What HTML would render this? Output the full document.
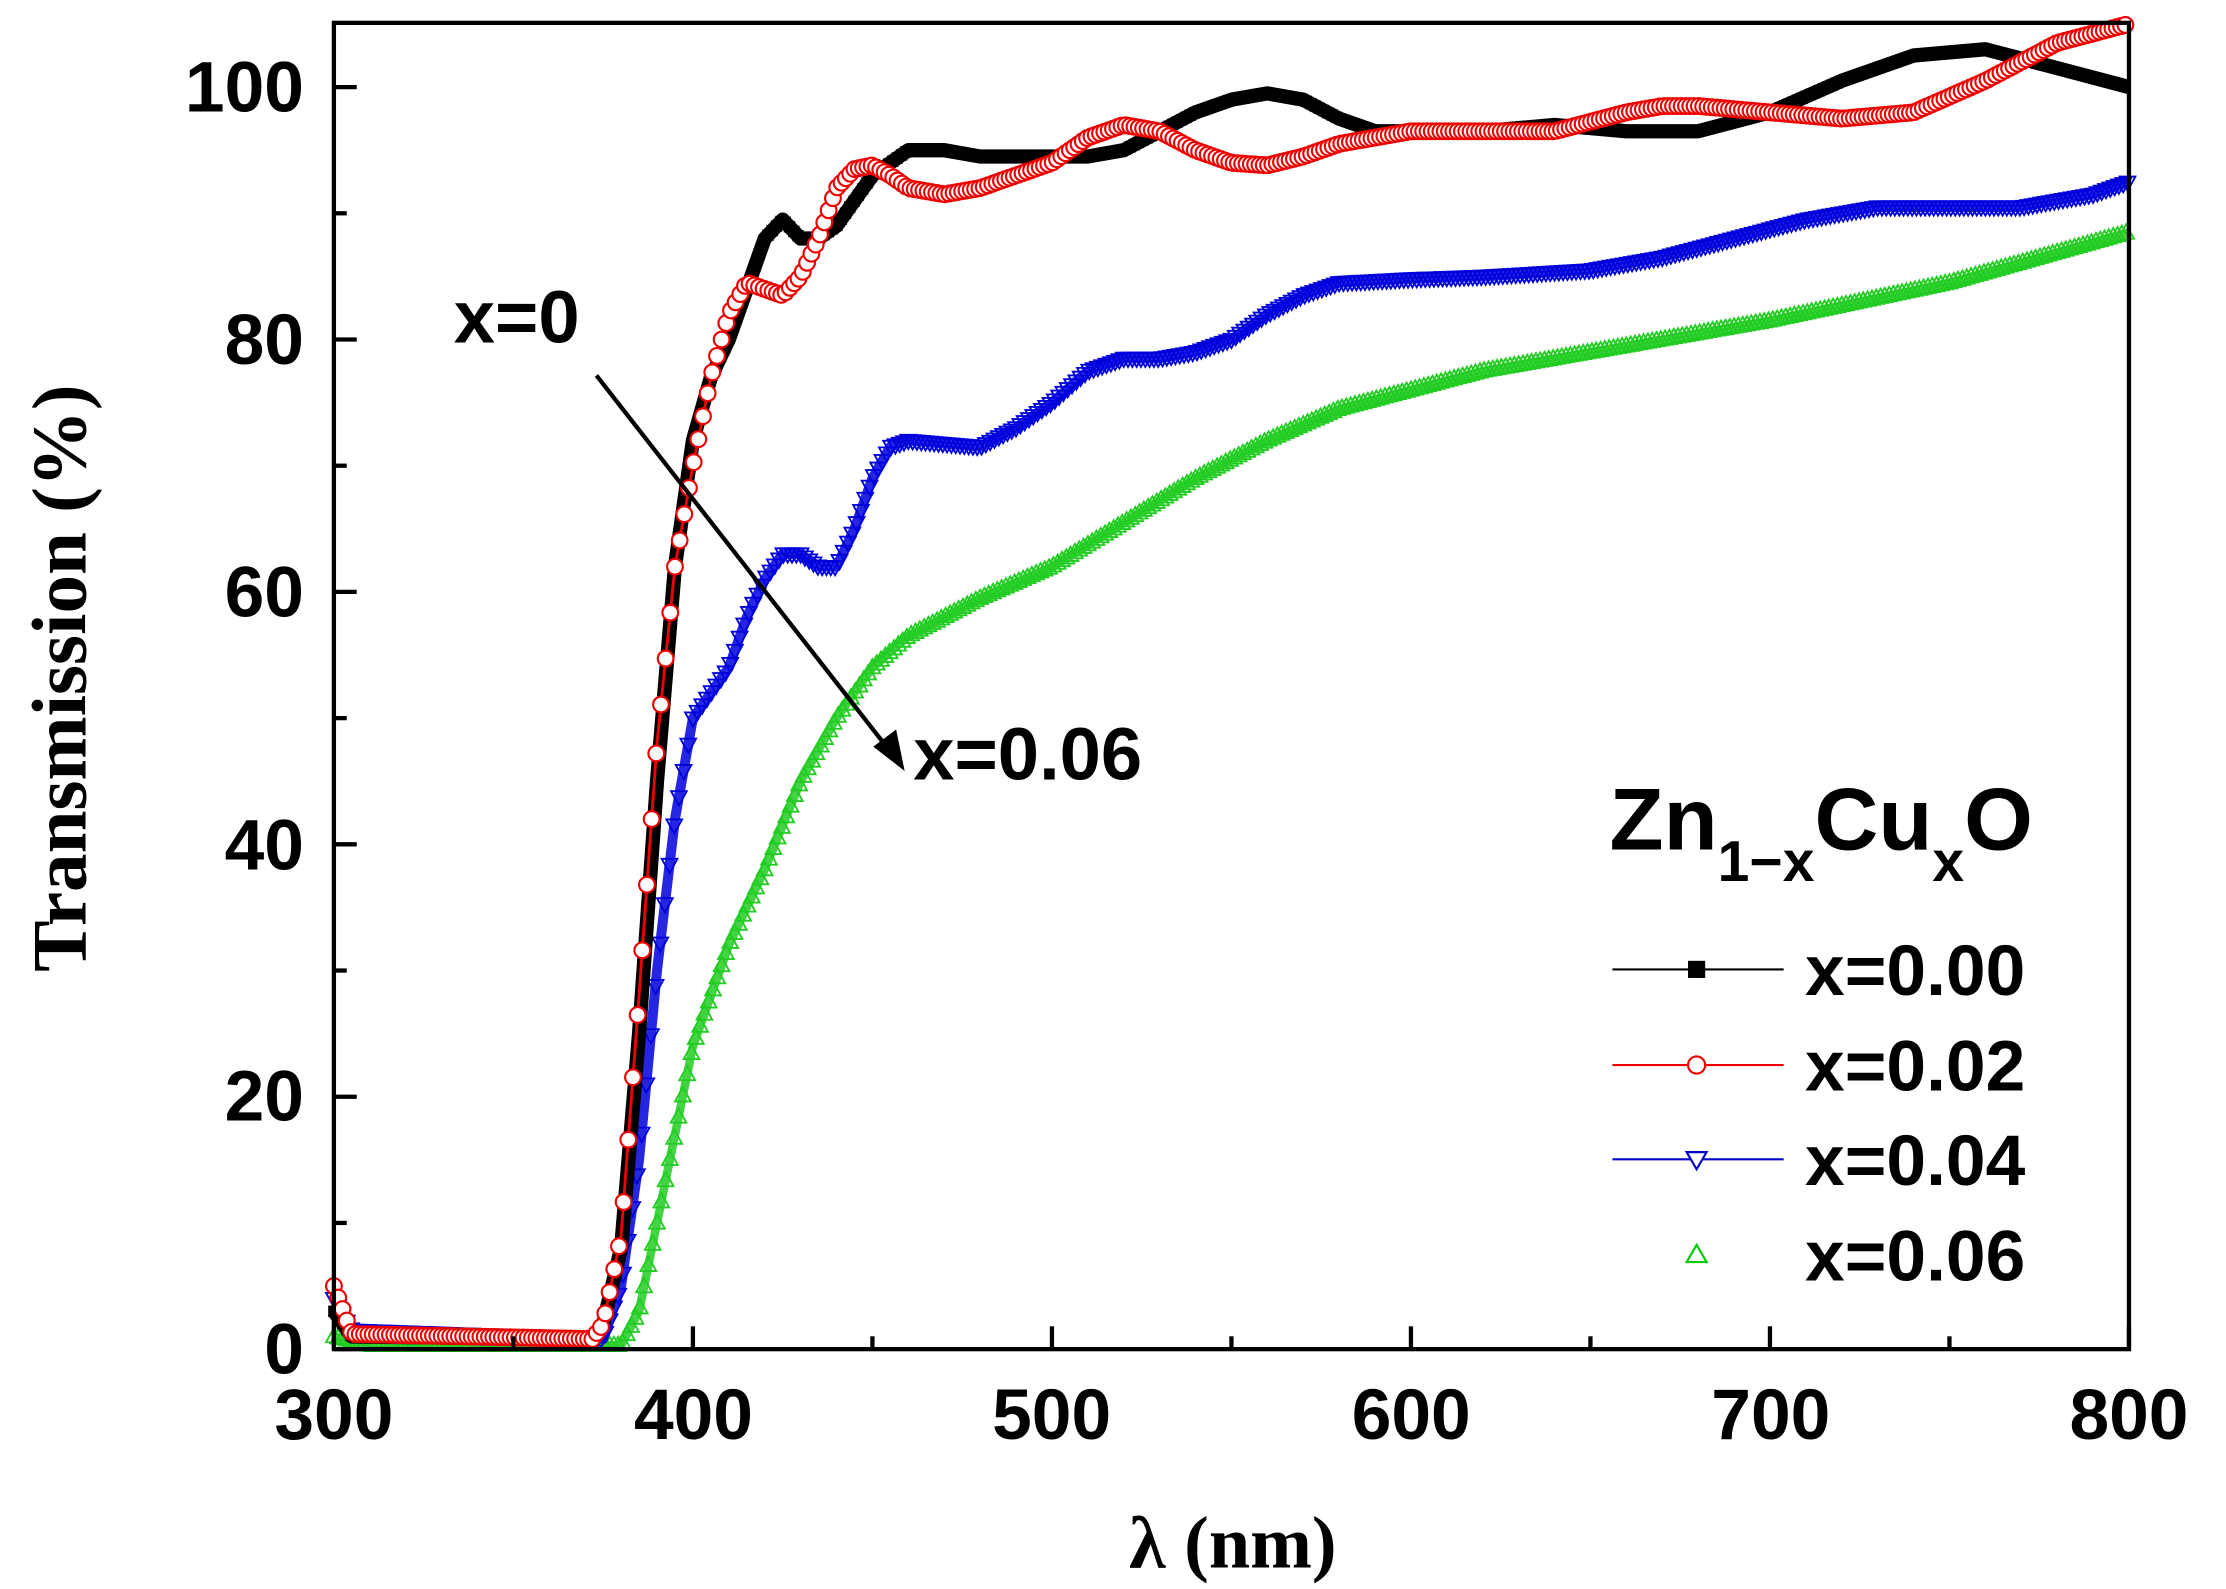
<!DOCTYPE html>
<html><head><meta charset="utf-8"><style>
html,body{margin:0;padding:0;background:#fff;}
svg{display:block;}
.t{font-family:"Liberation Sans",Arial,sans-serif;font-weight:bold;}
</style></head><body>
<svg id="s" width="2226" height="1589" viewBox="0 0 1560 1113" preserveAspectRatio="none" xmlns="http://www.w3.org/2000/svg">
<g id="data"></g>
<rect x="234" y="16" width="1258" height="929" fill="none" stroke="#000" stroke-width="3"/>
<g id="ticks" stroke="#000" stroke-width="3"></g>
<g class="t" font-size="50" text-anchor="middle">
<text x="234" y="1008">300</text><text x="486" y="1008">400</text><text x="737" y="1008">500</text>
<text x="989" y="1008">600</text><text x="1241" y="1008">700</text><text x="1492" y="1008">800</text>
</g>
<g class="t" font-size="50" text-anchor="end">
<text x="213" y="962">0</text><text x="213" y="785">20</text><text x="213" y="609">40</text>
<text x="213" y="432">60</text><text x="213" y="255">80</text><text x="213" y="78">100</text>
</g>
<text x="864" y="1098" text-anchor="middle" font-family="Liberation Serif,serif" font-weight="bold" font-size="52">λ (nm)</text>
<text transform="translate(60,475) rotate(-90)" text-anchor="middle" font-family="Liberation Serif,serif" font-weight="bold" font-size="54">Transmission (%)</text>
<line x1="418" y1="263" x2="622" y2="524" stroke="#000" stroke-width="3"/>
<polygon points="634,540 612,523 628,511" fill="#000"/>
<text class="t" x="318" y="240" font-size="52">x=0</text>
<text class="t" x="640" y="546" font-size="52">x=0.06</text>
<text class="t" x="1128" y="595" font-size="62">Zn<tspan font-size="40" dy="22">1−x</tspan><tspan dy="-22">Cu</tspan><tspan font-size="40" dy="22">x</tspan><tspan dy="-22">O</tspan></text>
<g stroke-width="1.5">
<line x1="1130" y1="679" x2="1250" y2="679" stroke="#000"/><rect x="1183" y="673" width="12" height="12" fill="#000"/>
<line x1="1130" y1="746" x2="1250" y2="746" stroke="#e00"/><circle cx="1189" cy="746" r="6" fill="#fff" stroke="#e00"/>
<line x1="1130" y1="812" x2="1250" y2="812" stroke="#00c"/><polygon points="1182,807 1196,807 1189,819" fill="#fff" stroke="#00c"/>
<polygon points="1182,884 1196,884 1189,872" fill="#fff" stroke="#0c0"/>
</g>
<g class="t" font-size="50">
<text x="1265" y="697">x=0.00</text><text x="1265" y="764">x=0.02</text>
<text x="1265" y="830">x=0.04</text><text x="1265" y="897">x=0.06</text>
</g>
</svg>
<script>
var X=function(w){return 234+(w-300)*1258/500;},Y=function(t){return 945-t*8.84;};
var ns="http://www.w3.org/2000/svg",g=document.getElementById("data"),tk=document.getElementById("ticks");
function el(n,a,p){var e=document.createElementNS(ns,n);for(var k in a)e.setAttribute(k,a[k]);(p||g).appendChild(e);return e;}
function ln(x1,y1,x2,y2){el("line",{x1:x1,y1:y1,x2:x2,y2:y2},tk);}
for(var w=300;w<=800;w+=50){ln(X(w),945,X(w),945-(w%100==0?16:9));}
for(var t=0;t<=100;t+=10){ln(234,Y(t),234+(t%20==0?16:9),Y(t));}
var S={
k:[[300,3],[305,1],[372,0.8],[375,2],[380,8],[385,25],[390,45],[395,62],[400,72],[405,77],[410,80],[415,84],[420,88],[425,89.5],[430,88],[435,88],[440,89],[450,93],[460,95],[470,95],[480,94.5],[510,94.5],[520,95],[530,96.5],[540,98],[550,99],[560,99.5],[570,99],[580,97.5],[590,96.5],[620,96.5],[640,97],[660,96.5],[680,96.5],[700,98],[720,100.5],[740,102.5],[760,103],[780,101.5],[800,100]],
r:[[300,5],[305,1.2],[372,0.8],[375,2],[380,9],[385,28],[390,48],[395,62],[400,70],[405,77],[410,82],[415,84.5],[420,84],[425,83.5],[430,85],[435,88],[440,92],[445,93.5],[450,93.8],[455,93],[460,92],[470,91.5],[480,92],[490,93],[500,94],[510,96],[520,97],[530,96.5],[540,95],[550,94],[560,93.8],[570,94.5],[580,95.5],[590,96],[600,96.5],[640,96.5],[660,98],[670,98.5],[680,98.5],[700,98],[720,97.5],[740,98],[760,100.5],[780,103.5],[800,105]],
b:[[300,4],[305,1.5],[375,0.8],[380,5],[385,15],[390,30],[395,42],[400,50],[405,52],[410,54],[415,58],[420,61],[425,63],[430,63],[435,62],[440,62],[445,65],[450,69],[455,71.5],[460,72],[480,71.5],[490,73],[500,75],[510,77.5],[520,78.5],[530,78.5],[540,79],[550,80],[560,82],[570,83.5],[580,84.5],[600,84.8],[620,85],[650,85.5],[670,86.5],[690,88],[710,89.5],[730,90.5],[770,90.5],[790,91.5],[800,92.5]],
g:[[300,1],[310,0.3],[380,0.3],[385,3],[390,10],[395,17],[400,24],[410,32],[420,38],[430,45],[440,50],[450,54],[460,56.5],[470,58],[480,59.5],[500,62],[520,65.5],[540,69],[560,72],[580,74.5],[600,76],[620,77.5],[650,79],[700,81.5],[750,84.5],[800,88.5]]};
var C={k:"#000",r:"#e00",b:"#00d",g:"#2c2"};
function interp(a,w){for(var i=1;i<a.length;i++){if(w<=a[i][0]){var p=a[i-1],q=a[i],f=(w-p[0])/(q[0]-p[0]);return p[1]+f*(q[1]-p[1]);}}return a[a.length-1][1];}
["g","b","k","r"].forEach(function(k){var p=S[k].map(function(d){return X(d[0])+","+Y(d[1]);}).join(" ");
el("polyline",{points:p,fill:"none",stroke:C[k],"stroke-width":k=="k"?10:(k=="r"?2:(k=="b"?7:6)),"stroke-linejoin":"round",opacity:k=="b"||k=="g"?0.85:1});
var lo={k:376,r:376,b:378,g:383}[k],hi={k:404,r:420,b:415,g:450}[k],st={k:1.3,r:1.3,b:1.3,g:1.2}[k];
for(var w=300;w<=800;w+=(w>=lo&&w<=hi?st:1.2)){var x=X(w),y=Y(interp(S[k],w));
if(k=="k")el("rect",{x:x-4,y:y-4,width:8,height:8,fill:"#000"});
else if(k=="r")el("circle",{cx:x,cy:y,r:5.5,fill:"#fff",stroke:"#e00","stroke-width":1.5});
else if(k=="b")el("polygon",{points:(x-5.5)+","+(y-4)+" "+(x+5.5)+","+(y-4)+" "+x+","+(y+6),fill:"none",stroke:"#00d","stroke-width":1.3});
else el("polygon",{points:(x-5.5)+","+(y+4)+" "+(x+5.5)+","+(y+4)+" "+x+","+(y-6),fill:"none",stroke:"#2c2","stroke-width":1.3});}
});
</script>
</body></html>
